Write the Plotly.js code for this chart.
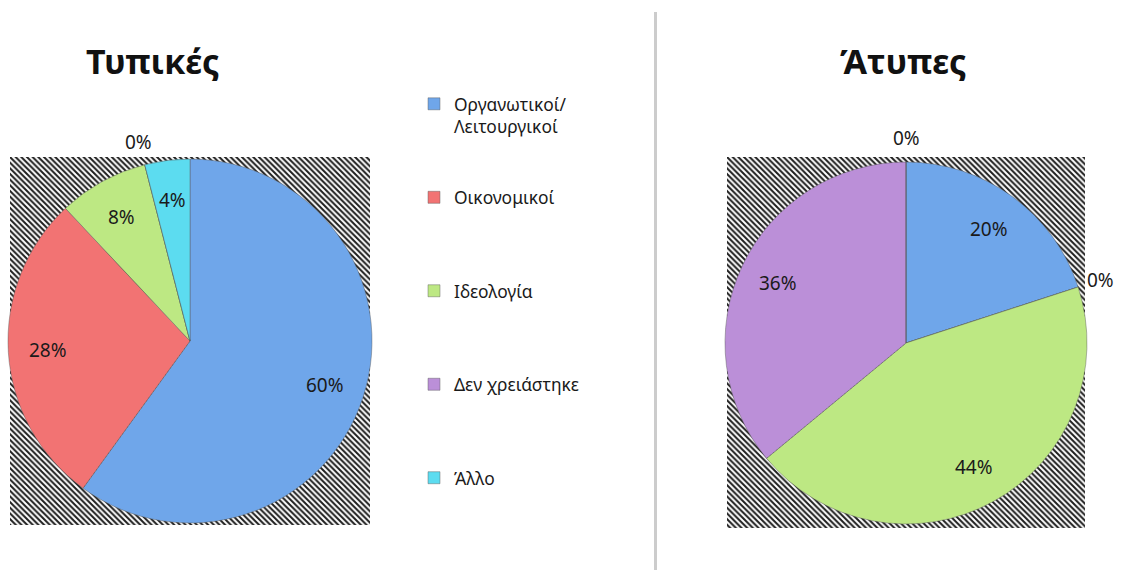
<!DOCTYPE html>
<html>
<head>
<meta charset="utf-8">
<script src="https://cdn.plot.ly/plotly-3.0.1.min.js"></script>
<style>html,body{margin:0;padding:0;background:#fff;}#chart{width:1121px;height:570px;}</style>
</head>
<body>
<div id="chart"></div>
<script>
// ---- data ----
const categories = ["Οργανωτικοί/<br>Λειτουργικοί", "Οικονομικοί", "Ιδεολογία", "Δεν χρειάστηκε", "Άλλο"];
const typicalValues = [60, 28, 8, 0, 4];   // Τυπικές
const atypicalValues = [20, 0, 44, 36, 0]; // Άτυπες
const chartTitles = ["Τυπικές", "Άτυπες"];
const sliceColors = ["#6fa6ea", "#f27373", "#bde883", "#bb8fd8", "#5cdcf0"];

// ---- build ----
const W = 1121, H = 570;
const px = v => v / W;
const py = v => 1 - v / H;
const FONT = "Noto Sans, Open Sans, DejaVu Sans, sans-serif";

// legend labels padded to equal 4-line height so entries are evenly spaced
const legendLabels = categories.map(c => {
  const n = c.split("<br>").length;
  let s = c;
  for (let i = n; i < 4; i++) s += "<br>\u00a0";
  return s;
});

const leftDomain = { x: [px(8), px(372)], y: [py(524), py(158)] };
const rightDomain = { x: [px(725), px(1087)], y: [py(526), py(160)] };

function pieTrace(vals, domain) {
  return {
    type: "pie",
    labels: legendLabels,
    values: vals,
    sort: false,
    direction: "clockwise",
    rotation: 0,
    domain: domain,
    marker: { colors: sliceColors, line: { color: "rgba(90,90,90,0.55)", width: 0.8 } },
    textinfo: "none",
    showlegend: true,
    hoverinfo: "label+percent"
  };
}

// percentage labels placed along each slice's bisector (Excel-style), computed from the values
function pieLabels(vals, domain) {
  const total = vals.reduce((a, b) => a + b, 0);
  const cx = (domain.x[0] + domain.x[1]) / 2 * W;
  const cy = (1 - (domain.y[0] + domain.y[1]) / 2) * H;
  const r = Math.min((domain.x[1] - domain.x[0]) * W, (domain.y[1] - domain.y[0]) * H) / 2;
  const out = [];
  let cum = 0;
  vals.forEach(v => {
    const frac = v / total;
    const mid = (cum + frac / 2) * 2 * Math.PI;
    cum += frac;
    const rr = v === 0 ? r * 1.13 : r * 0.78;
    const x = cx + rr * Math.sin(mid);
    const y = cy - rr * Math.cos(mid);
    out.push({
      text: Math.round(frac * 100) + "%",
      x: x / W, y: 1 - y / H, xref: "paper", yref: "paper",
      xanchor: "center", yanchor: "middle", showarrow: false,
      font: { family: FONT, size: 19, color: "#1a1a1a" }
    });
  });
  return out;
}

function hatchTrace(xa, ya) {
  return {
    type: "bar",
    x: [0.5], y: [1], width: [1],
    xaxis: xa, yaxis: ya,
    marker: {
      color: "#1e1e1e",
      line: { width: 0 },
      pattern: { shape: "\\", fgcolor: "#1e1e1e", bgcolor: "#ffffff", size: 4, solidity: 0.5 }
    },
    showlegend: false,
    hoverinfo: "skip"
  };
}

const data = [
  hatchTrace("x", "y"),
  hatchTrace("x2", "y2"),
  pieTrace(typicalValues, leftDomain),
  pieTrace(atypicalValues, rightDomain)
];

const hiddenAxis = (domain, anchor) => ({
  domain: domain, range: [0, 1], visible: false, fixedrange: true, anchor: anchor
});

const titleAnn = (t, x) => ({
  text: "<b>" + t + "</b>", x: px(x), y: py(61), xref: "paper", yref: "paper",
  xanchor: "center", yanchor: "middle",
  showarrow: false, font: { family: FONT, size: 34, color: "#111" }
});

const layout = {
  width: W, height: H,
  margin: { l: 0, r: 0, t: 0, b: 0 },
  paper_bgcolor: "#ffffff",
  plot_bgcolor: "rgba(0,0,0,0)",
  bargap: 0,
  xaxis: hiddenAxis([px(10), px(370)], "y"),
  yaxis: hiddenAxis([py(525), py(157)], "x"),
  xaxis2: hiddenAxis([px(727), px(1085)], "y2"),
  yaxis2: hiddenAxis([py(528), py(157)], "x2"),
  legend: {
    x: px(414), y: py(86), xanchor: "left", yanchor: "top",
    valign: "top",
    font: { family: FONT, size: 17.4, color: "#1a1a1a" },
    bgcolor: "rgba(0,0,0,0)"
  },
  annotations: [
    titleAnn(chartTitles[0], 153),
    titleAnn(chartTitles[1], 903)
  ].concat(pieLabels(typicalValues, leftDomain), pieLabels(atypicalValues, rightDomain)),
  shapes: [
    { type: "line", xref: "paper", yref: "paper", x0: px(655.5), x1: px(655.5), y0: 0, y1: py(12),
      line: { color: "#cccccc", width: 3 } }
  ]
};

Plotly.newPlot("chart", data, layout, { displayModeBar: false, staticPlot: true });
</script>
</body>
</html>
